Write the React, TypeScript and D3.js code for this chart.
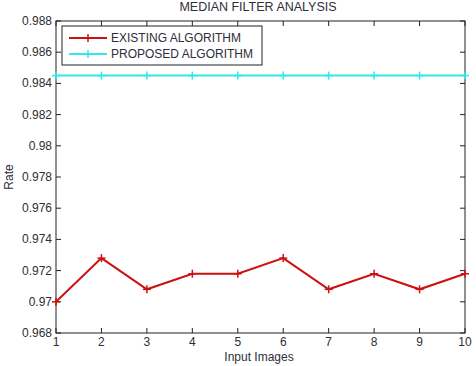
import * as d3 from "d3";

const images = [1, 2, 3, 4, 5, 6, 7, 8, 9, 10];
const existing = [0.97, 0.9728, 0.9708, 0.9718, 0.9718, 0.9728, 0.9708, 0.9718, 0.9708, 0.9718];
const proposed = [0.9845, 0.9845, 0.9845, 0.9845, 0.9845, 0.9845, 0.9845, 0.9845, 0.9845, 0.9845];
const yTicks = [0.968, 0.97, 0.972, 0.974, 0.976, 0.978, 0.98, 0.982, 0.984, 0.986, 0.988];
const seriesNames = ["EXISTING ALGORITHM", "PROPOSED ALGORITHM"];
const colors = ["#cc1111", "#33e8e8"];

export default function App() {
  const width = 476;
  const height = 366;
  const margin = { top: 21, right: 11, bottom: 33, left: 56 };
  const x = d3.scaleLinear().domain([1, 10]).range([margin.left, width - margin.right]);
  const y = d3.scaleLinear().domain([0.968, 0.988]).range([height - margin.bottom, margin.top]);
  const line = d3
    .line<number>()
    .x((_, i) => x(images[i]))
    .y((d) => y(d));
  const series = [existing, proposed];
  const font = "'Liberation Sans', Arial, sans-serif";
  const textColor = "#2e2e3a";
  const tk = 5;
  const plus = (cx: number, cy: number, c: string, k: string) => (
    <g key={k} stroke={c} strokeWidth={1.5}>
      <line x1={cx - 4} x2={cx + 4} y1={cy} y2={cy} />
      <line x1={cx} x2={cx} y1={cy - 4} y2={cy + 4} />
    </g>
  );

  return (
    <svg
      width={width}
      height={height}
      style={{ position: "absolute", left: 0, top: 0, background: "#fff" }}
      fontFamily={font}
    >
      {/* title */}
      <text x={258} y={11} textAnchor="middle" fontSize={12.5} fill={textColor}>
        MEDIAN FILTER ANALYSIS
      </text>
      {/* axes box */}
      <rect
        x={margin.left}
        y={margin.top}
        width={width - margin.left - margin.right}
        height={height - margin.top - margin.bottom}
        fill="none"
        stroke="#222"
        strokeWidth={1}
      />
      {/* x ticks */}
      {images.map((d) => (
        <g key={"x" + d}>
          <line x1={x(d)} x2={x(d)} y1={y(0.968)} y2={y(0.968) - tk} stroke="#222" />
          <line x1={x(d)} x2={x(d)} y1={y(0.988)} y2={y(0.988) + tk} stroke="#222" />
          <text x={x(d)} y={y(0.968) + 13} textAnchor="middle" fontSize={12} fill={textColor}>
            {d}
          </text>
        </g>
      ))}
      {/* y ticks */}
      {yTicks.map((d) => (
        <g key={"y" + d}>
          <line x1={x(1)} x2={x(1) + tk} y1={y(d)} y2={y(d)} stroke="#222" />
          <line x1={x(10)} x2={x(10) - tk} y1={y(d)} y2={y(d)} stroke="#222" />
          <text x={x(1) - 4} y={y(d) + 4} textAnchor="end" fontSize={12} fill={textColor}>
            {d3.format("")(+d.toFixed(3))}
          </text>
        </g>
      ))}
      {/* axis labels */}
      <text x={259} y={361} textAnchor="middle" fontSize={12} fill={textColor}>
        Input Images
      </text>
      <text
        transform={`translate(13,${(margin.top + height - margin.bottom) / 2}) rotate(-90)`}
        textAnchor="middle"
        fontSize={12}
        fill={textColor}
      >
        Rate
      </text>
      {/* lines */}
      {series.map((s, si) => (
        <g key={"s" + si}>
          <path d={line(s) ?? ""} fill="none" stroke={colors[si]} strokeWidth={2} />
          {s.map((v, i) => plus(x(images[i]), y(v), colors[si], `p${si}-${i}`))}
        </g>
      ))}
      {/* legend */}
      <rect x={62} y={26} width={200} height={39} fill="#fff" stroke="#222" />
      {seriesNames.map((n, i) => (
        <g key={n}>
          <line x1={69} x2={107} y1={38 + i * 16} y2={38 + i * 16} stroke={colors[i]} strokeWidth={2} />
          {plus(88, 38 + i * 16, colors[i], "l" + i)}
          <text x={111} y={42 + i * 16} fontSize={12} fill={textColor}>
            {n}
          </text>
        </g>
      ))}
    </svg>
  );
}
